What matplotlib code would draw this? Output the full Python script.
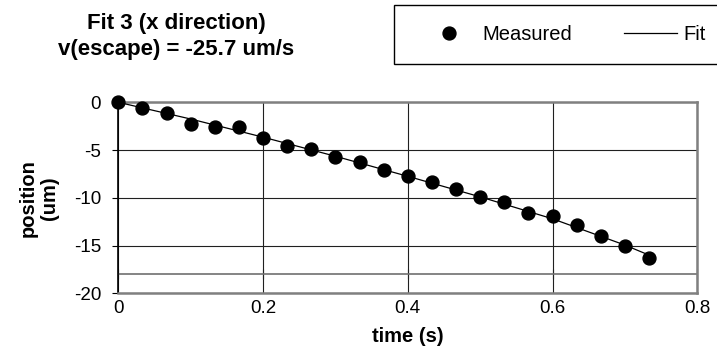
import matplotlib.pyplot as plt
from matplotlib.lines import Line2D
from matplotlib.patches import Rectangle

plt.rcParams['font.family'] = ['Liberation Sans', 'DejaVu Sans']

# measured positions (um) vs time (s)
time_s = [0.0, 0.0333, 0.0667, 0.1, 0.1333, 0.1667, 0.2, 0.2333, 0.2667, 0.3, 0.3333,
          0.3667, 0.4, 0.4333, 0.4667, 0.5, 0.5333, 0.5667, 0.6, 0.6333, 0.6667, 0.7, 0.7333]
position_um = [0.0, -0.6, -1.1, -2.25, -2.6, -2.6, -3.75, -4.6, -4.9, -5.75, -6.25,
               -7.1, -7.75, -8.3, -9.1, -9.9, -10.45, -11.6, -11.95, -12.9, -13.95, -15.05, -16.3]

# fit curve
fit_t = [0.0, 0.1, 0.2, 0.3, 0.4, 0.5, 0.6, 0.7, 0.7333]
fit_pos = [0.0, -1.75, -3.65, -5.65, -7.75, -9.9, -12.2, -14.95, -16.0]

xticks = [0, 0.2, 0.4, 0.6, 0.8]
xticklabels = ['0', '0.2', '0.4', '0.6', '0.8']
yticks = [0, -5, -10, -15, -20]
yticklabels = ['0', '-5', '-10', '-15', '-20']

W, H = 717, 354
fig = plt.figure(figsize=(W / 100, H / 100), dpi=100)
ax = fig.add_axes([118.3 / W, 1 - 293.3 / H, 579 / W, 191 / H])

ax.plot(fit_t, fit_pos, color='black', lw=0.9, zorder=3)
ax.plot(time_s, position_um, 'o', color='black', ms=9.3, zorder=4, clip_on=False)

ax.set_xlim(0, 0.8)
ax.set_ylim(-20, 0)
ax.set_xticks(xticks)
ax.set_xticklabels(xticklabels)
ax.set_yticks(yticks)
ax.set_yticklabels(yticklabels)
ax.tick_params(axis='x', length=0, labelsize=13.5, pad=5)
ax.tick_params(axis='y', length=4.3, direction='out', labelsize=13.5, color='black', pad=8)

ax.grid(True, color='#202020', lw=0.8)
for s in ['top', 'right', 'bottom']:
    ax.spines[s].set_color('#808080')
    ax.spines[s].set_linewidth(1.8)
ax.spines['left'].set_color('black')
ax.spines['left'].set_linewidth(1.2)

# horizontal axis crossing at -18
ax.axhline(-18, color='#707070', lw=1.2, zorder=2)
sec = ax.secondary_xaxis(0.1)
sec.set_xticks(xticks)
sec.tick_params(direction='inout', length=7, labelbottom=False, color='black')
sec.spines['bottom'].set_visible(False)

fig.text(407.8 / W, 1 - 337 / H, 'time (s)', ha='center', va='center', fontsize=14.5, fontweight='bold')
fig.text(39 / W, 1 - 197.7 / H, 'position\n(um)', ha='center', va='center', rotation=90,
         fontsize=14.5, fontweight='bold', linespacing=1.15)

fig.text(176 / W, 1 - 23 / H, 'Fit 3 (x direction)', ha='center', va='center', fontsize=16, fontweight='bold')
fig.text(176 / W, 1 - 49 / H, 'v(escape) = -25.7 um/s', ha='center', va='center', fontsize=16, fontweight='bold')

# legend box
fig.patches.append(Rectangle((394 / W, 1 - 64 / H), 330 / W, 59 / H, transform=fig.transFigure,
                             facecolor='white', edgecolor='black', lw=1.0))
handles = [Line2D([], [], marker='o', ls='none', color='black', ms=9.3),
           Line2D([], [], color='black', lw=0.9)]
leg = fig.legend(handles, ['Measured', 'Fit'], ncol=2, loc='center left',
                 bbox_to_anchor=(422.5 / W, 1 - 35 / H), fontsize=14.5, frameon=False,
                 handlelength=2.64, handletextpad=0.32, columnspacing=2.6,
                 borderpad=0, borderaxespad=0)

fig.savefig('out.png', dpi=100)
